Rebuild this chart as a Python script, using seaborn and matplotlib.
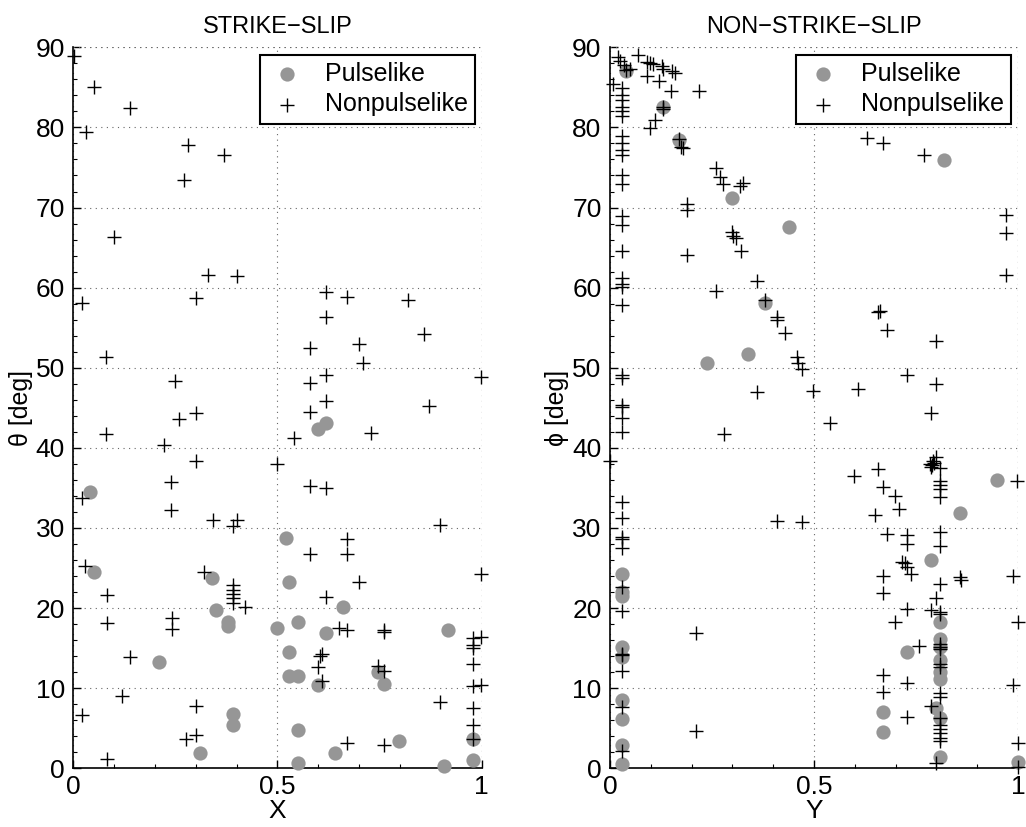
import matplotlib
matplotlib.use("Agg")
import matplotlib.pyplot as plt
import seaborn as sns
import pandas as pd
from matplotlib.ticker import MultipleLocator

# ---------------- STRIKE-SLIP ----------------
ss_pulse_x = [0.041, 0.05, 0.211, 0.339, 0.35, 0.379, 0.379, 0.39, 0.39, 0.311,
              0.499, 0.521, 0.529, 0.529, 0.529, 0.55, 0.55, 0.55, 0.55, 0.60,
              0.62, 0.62, 0.66, 0.60, 0.64, 0.746, 0.76, 0.798, 0.908, 0.918,
              0.978, 0.978]
ss_pulse_theta = [34.5, 24.5, 13.3, 23.8, 19.8, 18.2, 17.7, 6.75, 5.4, 1.96,
                  17.5, 28.7, 23.2, 14.5, 11.5, 11.5, 18.2, 4.75, 0.7, 42.4,
                  43.1, 16.9, 20.1, 10.4, 1.96, 12.0, 10.5, 3.4, 0.3, 17.2,
                  3.6, 1.0]

ss_nonpulse_x = [0.003, 0.05, 0.14, 0.032, 0.28, 0.37, 0.27, 0.101, 0.331, 0.40,
                 0.021, 0.301, 0.08, 0.25, 0.30, 0.26, 0.08, 0.221, 0.30, 0.499,
                 0.239, 0.021, 0.239, 0.341, 0.40, 0.39,
                 0.62, 0.67, 0.82, 0.62, 0.859, 0.58, 0.70, 0.71, 0.62, 0.998,
                 0.58, 0.62, 0.87, 0.58, 0.54, 0.73, 0.58, 0.62, 0.898,
                 0.029, 0.082, 0.082, 0.139, 0.12, 0.021, 0.082, 0.241, 0.241, 0.32,
                 0.39, 0.39, 0.39, 0.39, 0.39, 0.42, 0.30, 0.277, 0.30,
                 0.67, 0.67, 0.58, 0.70, 0.62, 0.65, 0.67, 0.76, 0.76, 0.978,
                 0.999, 0.978, 0.978, 0.978, 0.608, 0.604, 0.60, 0.608, 0.746, 0.76,
                 0.978, 0.999, 0.898, 0.978, 0.978, 0.978, 0.67, 0.76, 0.999]
ss_nonpulse_theta = [88.9, 85.0, 82.4, 79.4, 77.75, 76.5, 73.4, 66.3, 61.6, 61.5,
                     58.1, 58.7, 51.3, 48.4, 44.4, 43.6, 41.75, 40.4, 38.4, 38.0,
                     35.7, 33.8, 32.3, 31.0, 31.0, 30.2,
                     59.4, 58.8, 58.5, 56.3, 54.2, 52.5, 53.0, 50.6, 49.1, 48.9,
                     48.1, 45.8, 45.25, 44.5, 41.2, 41.9, 35.2, 35.0, 30.4,
                     25.25, 21.6, 18.1, 13.9, 9.0, 6.6, 1.1, 18.8, 17.4, 24.5,
                     22.9, 22.25, 21.75, 21.2, 20.6, 20.1, 7.75, 3.7, 4.2,
                     28.6, 26.7, 26.75, 23.2, 21.4, 17.5, 17.2, 17.25, 17.0, 16.3,
                     16.4, 15.4, 15.0, 13.0, 14.3, 14.0, 12.7, 10.9, 12.8, 12.2,
                     10.3, 10.4, 8.3, 7.55, 5.4, 3.6, 3.2, 2.9, 24.25]

# ---------------- NON-STRIKE-SLIP ----------------
nss_pulse_y = [0.039, 0.129, 0.17, 0.298, 0.439, 0.819, 0.38, 0.338, 0.238, 0.948,
               0.858, 0.788, 0.809, 0.809, 0.809, 0.809, 0.809, 0.809, 0.729, 0.80,
               0.809, 0.668, 0.668, 0.809, 0.999,
               0.03, 0.03, 0.03, 0.03, 0.03, 0.03, 0.03, 0.03, 0.03]
nss_pulse_phi = [87.0, 82.6, 78.4, 71.2, 67.6, 75.9, 58.1, 51.7, 50.6, 36.0,
                 31.9, 26.0, 18.3, 16.2, 15.2, 13.5, 12.05, 11.1, 14.5, 7.5,
                 6.25, 7.0, 4.5, 1.45, 0.75,
                 24.3, 22.0, 21.5, 15.1, 13.9, 8.5, 6.15, 2.9, 0.55]

nss_nonpulse_y = [0.02, 0.025, 0.035, 0.069, 0.09, 0.098, 0.106, 0.127, 0.129, 0.151,
                  0.159, 0.049, 0.039, 0.09, 0.12, 0.007, 0.149, 0.219,
                  0.03, 0.03, 0.03, 0.03, 0.03, 0.03, 0.03, 0.03, 0.03, 0.03,
                  0.03, 0.03, 0.03, 0.03, 0.03, 0.03, 0.03, 0.03, 0.03, 0.03,
                  0.03, 0.03, 0.03, 0.03, 0.03, 0.03, 0.03, 0.03, 0.03, 0.03,
                  0.03, 0.03, 0.03, 0.03, 0.03, 0.03, 0.03,
                  0.129, 0.129, 0.11, 0.098, 0.17, 0.175, 0.18, 0.26, 0.27, 0.278,
                  0.319, 0.327, 0.188, 0.188, 0.298, 0.302, 0.31, 0.32, 0.189, 0.36,
                  0.26, 0.38, 0.41, 0.41, 0.43, 0.458, 0.462, 0.47, 0.36, 0.279,
                  0.498, 0.0, 0.41, 0.47, 0.211, 0.211,
                  0.631, 0.67, 0.77, 0.97, 0.97, 0.97, 0.658, 0.662, 0.678, 0.799,
                  0.729, 0.609, 0.799, 0.788, 0.539,
                  0.785, 0.79, 0.795, 0.788, 0.792, 0.799, 0.809, 0.809, 0.809, 0.809,
                  0.809, 0.998, 0.599, 0.658, 0.668, 0.699, 0.709, 0.649, 0.678, 0.729,
                  0.729, 0.809, 0.809, 0.715, 0.723, 0.727, 0.739, 0.668, 0.858, 0.86,
                  0.987, 0.809, 0.668, 0.799, 0.729, 0.788, 0.809, 0.809, 0.699, 0.999,
                  0.809, 0.809, 0.809, 0.758, 0.809, 0.809, 0.668, 0.729, 0.987, 0.668,
                  0.809, 0.809, 0.788, 0.809, 0.729, 0.809, 0.809, 0.809, 0.809, 0.809,
                  0.799, 0.999, 0.999]
nss_nonpulse_phi = [88.8, 88.3, 87.8, 89.1, 88.2, 88.0, 87.9, 87.7, 87.3, 87.0,
                    86.8, 87.3, 87.2, 86.4, 85.8, 85.4, 84.5, 84.5,
                    84.9, 84.1, 83.4, 82.6, 82.0, 81.4, 78.9, 78.0, 77.2, 76.6,
                    74.1, 72.9, 69.0, 67.8, 64.6, 61.2, 60.5, 60.1, 57.8, 49.1,
                    48.7, 45.4, 45.1, 43.7, 42.0, 33.3, 31.2, 28.9, 28.6, 27.5,
                    22.6, 19.6, 14.3, 14.1, 12.2, 7.6, 2.1,
                    82.6, 82.3, 80.9, 79.9, 78.5, 77.6, 77.4, 74.9, 73.8, 72.9,
                    72.7, 73.0, 70.5, 69.7, 66.9, 66.5, 66.2, 64.6, 64.1, 60.8,
                    59.6, 58.5, 56.3, 56.0, 54.3, 51.4, 50.6, 49.8, 47.0, 41.7,
                    47.1, 38.4, 30.9, 30.8, 16.9, 4.6,
                    78.65, 78.0, 76.6, 69.1, 66.8, 61.6, 57.0, 57.1, 54.7, 53.3,
                    49.1, 47.4, 48.0, 44.3, 43.1,
                    38.0, 37.8, 38.1, 37.6, 38.3, 38.9, 37.45, 35.8, 35.4, 34.9,
                    33.9, 35.8, 36.5, 37.3, 35.1, 34.0, 32.4, 31.6, 29.3, 29.1,
                    28.0, 29.5, 27.7, 25.8, 25.6, 25.1, 24.3, 24.0, 23.9, 23.5,
                    24.0, 23.0, 21.85, 21.2, 19.85, 19.8, 19.55, 19.3, 18.3, 18.2,
                    15.5, 15.2, 14.9, 15.3, 13.0, 12.7, 11.65, 10.6, 10.4, 9.56,
                    9.4, 8.95, 7.8, 6.3, 6.4, 5.4, 4.9, 4.4, 3.75, 3.45,
                    0.6, 3.2, 0.2]

titles = ["STRIKE\u2212SLIP", "NON\u2212STRIKE\u2212SLIP"]
xlabels = ["X", "Y"]
ylabels = ["\u03b8 [deg]", "\u03d5 [deg]"]
xticks = [0, 0.5, 1]
xticklabels = ["0", "0.5", "1"]
yticks = list(range(0, 91, 10))

sns.set_style("white")
plt.rcParams["font.family"] = ["Liberation Sans", "DejaVu Sans"]
plt.rcParams["text.color"] = "black"
plt.rcParams["axes.labelcolor"] = "black"

fig = plt.figure(figsize=(10.26, 8.27), dpi=100)
ax1 = fig.add_axes([0.0714, 0.071, 0.398, 0.8718])
ax2 = fig.add_axes([0.5945, 0.071, 0.3977, 0.8718])

panels = [
    (ax1, ss_pulse_x, ss_pulse_theta, ss_nonpulse_x, ss_nonpulse_theta),
    (ax2, nss_pulse_y, nss_pulse_phi, nss_nonpulse_y, nss_nonpulse_phi),
]

grid_kw = dict(linestyle=(0, (1, 4)), color="#666666", linewidth=0.8)

for i, (ax, px, py, nx, ny) in enumerate(panels):
    dp = pd.DataFrame({"x": px, "y": py})
    dn = pd.DataFrame({"x": nx, "y": ny})
    sns.scatterplot(data=dp, x="x", y="y", ax=ax, marker="o", color="#969696",
                    s=105, linewidth=0, label="Pulselike", clip_on=False, zorder=3)
    sns.scatterplot(data=dn, x="x", y="y", ax=ax, marker="+", color="black",
                    s=100, linewidth=1.0, label="Nonpulselike", clip_on=False, zorder=4)
    ax.set_xlim(0, 1)
    ax.set_ylim(0, 90)
    ax.set_xticks(xticks)
    ax.set_xticklabels(xticklabels)
    ax.set_yticks(yticks)
    ax.xaxis.set_minor_locator(MultipleLocator(0.1))
    ax.yaxis.set_minor_locator(MultipleLocator(2))
    ax.tick_params(axis="both", which="major", direction="in", length=6, width=1,
                   labelsize=19, color="black", labelcolor="black", pad=6)
    ax.tick_params(axis="x", which="major", pad=5)
    ax.tick_params(axis="both", which="minor", direction="in", length=3, width=0.8,
                   color="black")
    ax.tick_params(axis="x", which="both", bottom=True, top=False)
    ax.tick_params(axis="y", which="both", left=True, right=False)
    ax.grid(True, which="major", **grid_kw)
    for side in ["top", "right"]:
        ax.spines[side].set_visible(False)
    for side in ["left", "bottom"]:
        ax.spines[side].set_color("black")
        ax.spines[side].set_linewidth(1.2)
    ax.axhline(90, zorder=1, **grid_kw)
    ax.axvline(1, zorder=1, **grid_kw)
    ax.set_title(titles[i], fontsize=17, pad=10, color="black")
    ax.set_xlabel(xlabels[i], fontsize=19, labelpad=0)
    ax.set_ylabel(ylabels[i], fontsize=18, labelpad=2)
    leg = ax.legend(loc="upper right", bbox_to_anchor=(0.984, 0.99), borderaxespad=0,
                    fontsize=18, frameon=True, fancybox=False, framealpha=1,
                    edgecolor="black", handletextpad=0.7, borderpad=0.3,
                    labelspacing=0.25, handlelength=1.6)
    leg.get_frame().set_linewidth(1.5)
    for t in leg.get_texts():
        t.set_color("black")

fig.savefig("out.png", dpi=100)
